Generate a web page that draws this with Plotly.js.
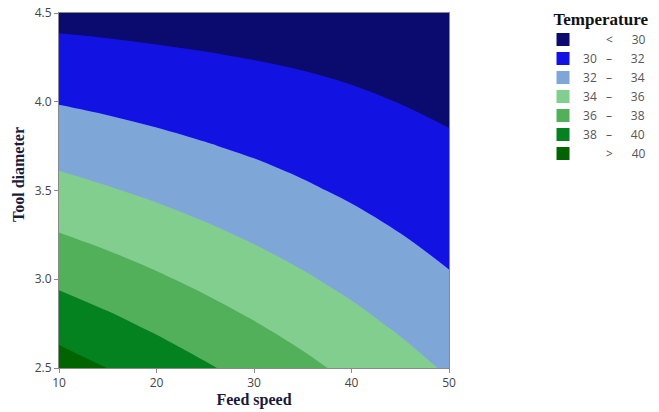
<!DOCTYPE html>
<html>
<head>
<meta charset="utf-8">
<script src="https://cdn.plot.ly/plotly-3.0.1.min.js"></script>
<style>html,body{margin:0;padding:0;background:#fff;}#chart{width:659px;height:412px;}</style>
</head>
<body>
<div id="chart"></div>
<script>
// Grid of the plotted surface (read/estimated from the reference picture)
const feedSpeed = [10, 15, 20, 25, 30, 35, 40, 45, 50];
const toolDiameter = [2.5, 2.75, 3.0, 3.25, 3.5, 3.75, 4.0, 4.25, 4.5];
// temperature[row = tool diameter][col = feed speed]
const temperature = [
  [40.86, 39.98, 39.09, 38.21, 37.33, 36.45, 35.56, 34.68, 33.79],
  [39.20, 38.42, 37.64, 36.85, 36.08, 35.30, 34.51, 33.73, 32.94],
  [37.61, 36.93, 36.25, 35.56, 34.89, 34.21, 33.53, 32.84, 32.16],
  [36.08, 35.50, 34.92, 34.34, 33.77, 33.19, 32.61, 32.03, 31.44],
  [34.62, 34.14, 33.66, 33.18, 32.71, 32.23, 31.75, 31.27, 30.79],
  [33.23, 32.85, 32.47, 32.10, 31.73, 31.35, 30.97, 30.59, 30.21],
  [31.91, 31.63, 31.35, 31.07, 30.81, 30.53, 30.25, 29.97, 29.70],
  [30.65, 30.47, 30.29, 30.12, 29.95, 29.78, 29.60, 29.42, 29.25],
  [29.45, 29.38, 29.30, 29.23, 29.16, 29.09, 29.01, 28.94, 28.86]
];
const levels = [30, 32, 34, 36, 38, 40];
const bandColors = ['#0b0a6e', '#1212e2', '#7ea7d8', '#81ce8e', '#53b05a', '#03821f', '#006400'];
const xTicks = [10, 20, 30, 40, 50];
const yTicks = [2.5, 3.0, 3.5, 4.0, 4.5];

const nb = '\u00a0', fig = '\u2007';
function bandLabel(i) {
  const gap1 = nb.repeat(3), gap2 = nb.repeat(6);
  if (i === 0) return fig + fig + gap1 + '<' + gap2 + levels[0];
  if (i === levels.length) return fig + fig + gap1 + '>' + gap2 + levels[levels.length - 1];
  return levels[i - 1] + gap1 + '\u2013' + gap2 + levels[i];
}

const n = bandColors.length;
const colorscale = bandColors.map((c, i) => [i / (n - 1), c]);

const traces = [{
  type: 'contour',
  x: feedSpeed,
  y: toolDiameter,
  z: temperature,
  colorscale: colorscale,
  showscale: false,
  showlegend: false,
  contours: {start: levels[0], end: levels[levels.length - 1], size: levels[1] - levels[0], coloring: 'fill', showlines: false},
  line: {width: 0, smoothing: 1},
  hoverinfo: 'skip'
}];
bandColors.forEach((c, i) => {
  traces.push({
    type: 'scatter', mode: 'markers', x: [null], y: [null],
    name: bandLabel(i),
    marker: {symbol: 'square', size: 13, color: c, line: {width: 0}},
    showlegend: true, hoverinfo: 'skip'
  });
});

const tickFont = {family: 'Open Sans, Noto Sans, sans-serif', size: 12, color: '#454545'};
const titleFont = {family: 'Liberation Serif, DejaVu Serif, serif', size: 16, color: '#1a1a3a', weight: 'bold'};
const lead = '\u200b' + nb.repeat(8);

const layout = {
  width: 659, height: 412,
  margin: {l: 59, r: 210, t: 13, b: 44, pad: 0},
  paper_bgcolor: '#ffffff', plot_bgcolor: '#ffffff',
  xaxis: {
    range: [10, 50], tickvals: xTicks, ticktext: xTicks.map(String),
    showgrid: false, zeroline: false, showline: true, mirror: true, linecolor: '#8a8a8a', linewidth: 1,
    ticks: 'outside', ticklen: 4, tickcolor: '#8a8a8a', tickfont: tickFont,
    title: {text: 'Feed speed', font: titleFont, standoff: 3}
  },
  yaxis: {
    range: [2.5, 4.5], tickvals: yTicks, ticktext: yTicks.map(v => v.toFixed(1)),
    showgrid: false, zeroline: false, showline: true, mirror: true, linecolor: '#8a8a8a', linewidth: 1,
    ticks: 'outside', ticklen: 4, tickcolor: '#8a8a8a', tickfont: tickFont,
    title: {text: lead + 'Tool diameter', font: titleFont, standoff: 6}
  },
  showlegend: true,
  legend: {
    xref: 'container', yref: 'container', x: 0.824, y: 0.993, xanchor: 'left', yanchor: 'top',
    title: {text: nb + nb + 'Temperature', font: {family: 'Liberation Serif, DejaVu Serif, serif', size: 17, color: '#111111', weight: 'bold'}},
    font: {family: 'Open Sans, Noto Sans, sans-serif', size: 12, color: '#555555'},
    bgcolor: 'rgba(0,0,0,0)', borderwidth: 0, tracegroupgap: 0, itemclick: false
  }
};

Plotly.newPlot('chart', traces, layout, {displayModeBar: false, staticPlot: true});
</script>
</body>
</html>
